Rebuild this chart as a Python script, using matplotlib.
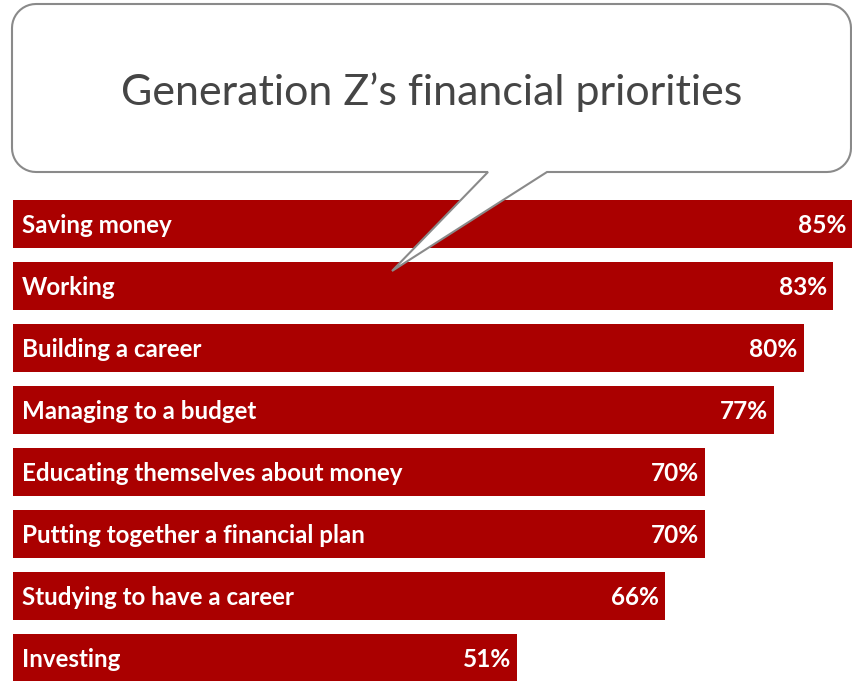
import matplotlib.pyplot as plt
import numpy as np
from matplotlib.path import Path
from matplotlib.patches import PathPatch

# survey data
labels = [
    "Saving money",
    "Working",
    "Building a career",
    "Managing to a budget",
    "Educating themselves about money",
    "Putting together a financial plan",
    "Studying to have a career",
    "Investing",
]
values = [85, 83, 80, 77, 70, 70, 66, 51]
title = "Generation Z\u2019s financial priorities"

BAR_RED = "#aa0000"
W, H = 853, 681

fig = plt.figure(figsize=(W / 100, H / 100), dpi=100)
ax = fig.add_axes([0, 0, 1, 1])

# 0% sits 13 px in, 85% reaches the right edge
px_per_unit = (W - 13) / 85.0
ax.set_xlim(-13 / px_per_unit, 85)
# bars pitched 62 px apart, first centred at 224 px
pitch = 62.0
ax.set_ylim((H - 224) / pitch, -224 / pitch)
ax.axis("off")

ypos = np.arange(len(labels))
ax.barh(ypos, values, height=48 / pitch, color=BAR_RED, edgecolor="none", zorder=1)

font = ["Lato", "DejaVu Sans"]
for y, lab, v in zip(ypos, labels, values):
    ax.text(9 / px_per_unit, y + 0.02, lab, color="white", fontsize=17.4,
            fontweight="bold", family=font, va="center", ha="left", zorder=2)
    ax.text(v - 6 / px_per_unit, y + 0.02, f"{v}%", color="white", fontsize=17.6,
            fontweight="bold", family=font, va="center", ha="right", zorder=2)

# speech bubble overlay in pixel coordinates
ov = fig.add_axes([0, 0, 1, 1], zorder=3)
ov.set_xlim(0, W)
ov.set_ylim(H, 0)
ov.axis("off")
ov.patch.set_alpha(0)

x0, x1, y0, y1, r = 12, 851, 4, 172, 24
tail_left, tail_right, tip = 488, 547, (392, 271)


def arc(cx, cy, a0, a1, n=12):
    t = np.radians(np.linspace(a0, a1, n))
    return list(zip(cx + r * np.cos(t), cy + r * np.sin(t)))


pts = []
pts += arc(x0 + r, y0 + r, 180, 270)
pts += arc(x1 - r, y0 + r, 270, 360)
pts += arc(x1 - r, y1 - r, 0, 90)
pts += [(tail_right, y1), tip, (tail_left, y1)]
pts += arc(x0 + r, y1 - r, 90, 180)
pts.append(pts[0])
codes = [Path.MOVETO] + [Path.LINETO] * (len(pts) - 2) + [Path.CLOSEPOLY]
bubble = PathPatch(Path(pts, codes), facecolor="white", edgecolor="#8a8a8a",
                   linewidth=1.5, joinstyle="miter")
ov.add_patch(bubble)

ov.text((x0 + x1) / 2, 92, title, color="#454545", fontsize=31,
        family=font, va="center", ha="center")

fig.savefig("out.png", dpi=100)
